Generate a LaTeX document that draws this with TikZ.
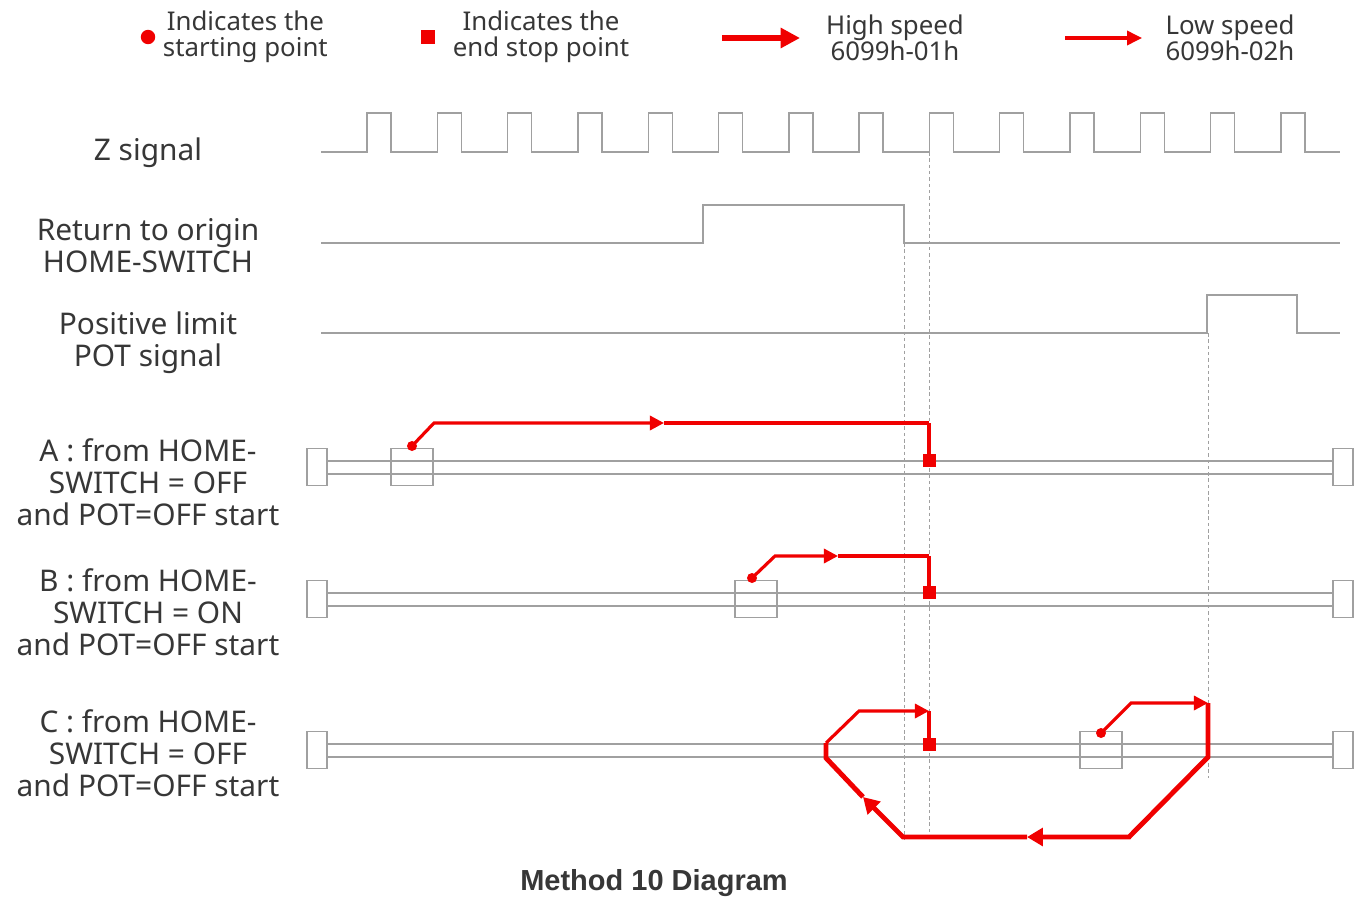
\documentclass[tikz,border=0pt]{standalone}
\usepackage{fontspec}
\setmainfont{Noto Sans}
\setsansfont{Liberation Sans}
\usepackage{xcolor}
\usepackage{tikz}
\usetikzlibrary{arrows.meta, positioning}

\definecolor{pathRed}{RGB}{240,0,0}
\definecolor{lineGray}{RGB}{160,160,160}
\definecolor{txtGray}{RGB}{55,55,55}

\tikzset{
    signal/.style={draw=lineGray, line width=0.8pt},
    rail/.style={draw=lineGray, line width=0.85pt},
    guide/.style={draw=lineGray, line width=0.55pt, dash pattern=on 2pt off 1.6pt},
    lowspd/.style={draw=pathRed, line width=1.8pt},
    highspd/.style={draw=pathRed, line width=2.8pt},
    lowtip/.style={arrows = -{Triangle[length=8pt, width=8pt]}},
    hightip/.style={arrows = -{Triangle[length=9pt, width=10pt]}},
    lbl/.style={align=center, inner sep=0pt, font=\fontsize{17}{18.2}\selectfont},
    keytext/.style={align=center, inner sep=0pt, font=\fontsize{14.7}{15}\selectfont},
    startdot/.style={circle, fill=pathRed, inner sep=0pt, minimum size=5.7pt},
    stopsq/.style={rectangle, fill=pathRed, inner sep=0pt, minimum size=7.4pt},
    endbox/.style={rectangle, draw=lineGray, line width=0.85pt, inner sep=0pt, minimum width=11.3pt, minimum height=21pt},
    startbox/.style={rectangle, draw=lineGray, line width=0.85pt, inner sep=0pt, minimum width=23.8pt, minimum height=21pt}
}

\begin{document}
\begin{tikzpicture}[x=0.02cm, y=-0.02cm, every node/.style={text=txtGray}]
    \useasboundingbox (0,0) rectangle (1362,899);

    % legend
    \node (dotKey) [startdot, minimum size=8.2pt] at (148,37) {};
    \node (dotTxt) [keytext, right=4pt of dotKey] {Indicates the\\starting point};
    \node (sqKey) [stopsq, minimum size=8.4pt] at (428,37) {};
    \node (sqTxt) [keytext, right=9.5pt of sqKey] {Indicates the\\end stop point};
    \coordinate (hsFrom) at (722,38);
    \coordinate (hsTo) at (800,38);
    \coordinate (lsFrom) at (1065,38);
    \coordinate (lsTo) at (1142,38);
    \draw [highspd, line width=2.9pt, arrows = -{Triangle[length=11pt, width=11pt]}] (hsFrom) -- (hsTo);
    \draw [lowspd, arrows = -{Triangle[length=8.5pt, width=8pt]}] (lsFrom) -- (lsTo);
    \node (hsTxt) [keytext] at (895,38) {High speed\\6099h-01h};
    \node (lsTxt) [keytext] at (1230,38) {Low speed\\6099h-02h};

    % signal names
    \node (zLbl) [lbl] at (148,153) {Z signal};
    \node (homeLbl) [lbl] at (148,246) {Return to origin\\HOME-SWITCH};
    \node (potLbl) [lbl] at (148,343) {Positive limit\\POT signal};
    \node (caseA) [lbl] at (148,482) {A : from HOME-\\SWITCH = OFF\\and POT=OFF start};
    \node (caseB) [lbl] at (148,612) {B : from HOME-\\SWITCH = ON\\and POT=OFF start};
    \node (caseC) [lbl] at (148,753) {C : from HOME-\\SWITCH = OFF\\and POT=OFF start};

    % signals
    \draw [signal] (321,152) \foreach \k in {0,...,13} { -- ({367+70.3*\k},152) -- ++(0,-39) -- ++(24,0) -- ++(0,39) } -- (1340,152);
    \draw [signal] (321,243) -- (703,243) -- (703,205) -- (904,205) -- (904,243) -- (1340,243);
    \draw [signal] (321,333) -- (1207,333) -- (1207,295) -- (1297,295) -- (1297,333) -- (1340,333);

    % guides
    \draw [guide] (904,243) -- (904,840);
    \draw [guide] (929,152) -- (929,840);
    \draw [guide] (1208,333) -- (1208,778);

    % rails
    \foreach \r/\y in {A/461, B/593, C/744} {
        \node (left\r) [endbox] at (317,{\y+6}) {};
        \node (right\r) [endbox] at (1343,{\y+6}) {};
        \draw [rail] (left\r.east |- 0,\y) -- (right\r.west |- 0,\y);
        \draw [rail] (left\r.east |- 0,{\y+13}) -- (right\r.west |- 0,{\y+13});
    }
    \node (boxA) [startbox] at (412,467) {};
    \node (boxB) [startbox] at (756,599) {};
    \node (boxC) [startbox] at (1101,750) {};

    % start and stop marks
    \node (dotA) [startdot] at (412,446) {};
    \node (dotB) [startdot] at (752,578) {};
    \node (dotC) [startdot] at (1101,733) {};
    \node (stopA) [stopsq] at (929,460) {};
    \node (stopB) [stopsq] at (929,592) {};
    \node (stopC) [stopsq] at (929,744) {};

    % path A
    \coordinate (aBend) at (434,423);
    \coordinate (aMark) at (664,423);
    \coordinate (aTop) at (929,423);
    \draw [lowspd, lowtip] (dotA.center) -- (aBend) -- (aMark);
    \draw [lowspd] (aMark) -- (aTop);
    \draw [highspd] (aTop) -- (stopA.center);

    % path B
    \coordinate (bBend) at (775,556);
    \coordinate (bMark) at (838,556);
    \coordinate (bTop) at (929,556);
    \draw [lowspd, lowtip] (dotB.center) -- (bBend) -- (bMark);
    \draw [lowspd] (bMark) -- (bTop);
    \draw [highspd] (bTop) -- (stopB.center);

    % path C
    \coordinate (cBend) at (1131,703);
    \coordinate (cTurn) at (1208,703);
    \coordinate (cDrop) at (1208,757);
    \coordinate (cLowR) at (1129,837);
    \coordinate (cMark) at (1027,837);
    \coordinate (cLowL) at (903,837);
    \coordinate (cRise) at (863,797);
    \coordinate (cBack) at (826,758);
    \coordinate (cUp) at (826,743);
    \coordinate (cBend2) at (859,711);
    \coordinate (cTop) at (929,711);
    \draw [lowspd, lowtip] (dotC.center) -- (cBend) -- (cTurn);
    \draw [highspd, hightip] (cTurn) -- (cDrop) -- (cLowR) -- (cMark);
    \draw [highspd, hightip] (cMark) -- (cLowL) -- (cRise);
    \draw [highspd] (cRise) -- (cBack) -- (cUp);
    \draw [lowspd, lowtip] (cUp) -- (cBend2) -- (cTop);
    \draw [highspd] (cTop) -- (stopC.center);

    \node (caption) [font=\sffamily\bfseries\fontsize{16.5}{18}\selectfont] at (654,883) {Method 10 Diagram};
\end{tikzpicture}
\end{document}
